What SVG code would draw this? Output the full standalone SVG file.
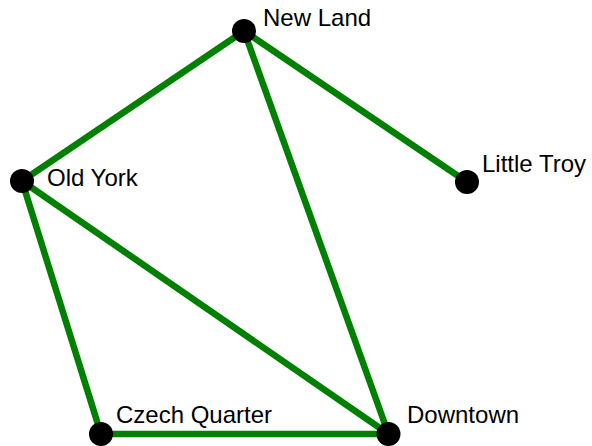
<svg xmlns="http://www.w3.org/2000/svg" width="592" height="446" viewBox="0 0 592 446">
  <style>
    .edge { stroke: #008000; stroke-width: 6.5; stroke-linecap: butt; fill: none; }
    .node circle { fill: #000000; }
    .node text { font-family: "Liberation Sans", Arial, sans-serif; font-size: 24px; fill: #000000; }
  </style>
  <rect width="592" height="446" fill="#ffffff"/>
  <g id="edges">
    <line class="edge" x1="244" y1="31" x2="22" y2="181"/>
    <line class="edge" x1="244" y1="31" x2="467" y2="182"/>
    <line class="edge" x1="244" y1="31" x2="388.5" y2="434"/>
    <line class="edge" x1="22" y1="181" x2="388.5" y2="434"/>
    <line class="edge" x1="22" y1="181" x2="101" y2="434"/>
    <line class="edge" x1="101" y1="434" x2="388.5" y2="434"/>
  </g>
  <g id="new-land" class="node">
    <circle cx="244" cy="31" r="12"/>
    <text x="263" y="26">New Land</text>
  </g>
  <g id="old-york" class="node">
    <circle cx="22" cy="181" r="12"/>
    <text x="47" y="186">Old York</text>
  </g>
  <g id="little-troy" class="node">
    <circle cx="467" cy="182" r="12"/>
    <text x="482" y="172">Little Troy</text>
  </g>
  <g id="czech-quarter" class="node">
    <circle cx="101" cy="434" r="12"/>
    <text x="116" y="423">Czech Quarter</text>
  </g>
  <g id="downtown" class="node">
    <circle cx="388.5" cy="434" r="12"/>
    <text x="407" y="423">Downtown</text>
  </g>
</svg>
